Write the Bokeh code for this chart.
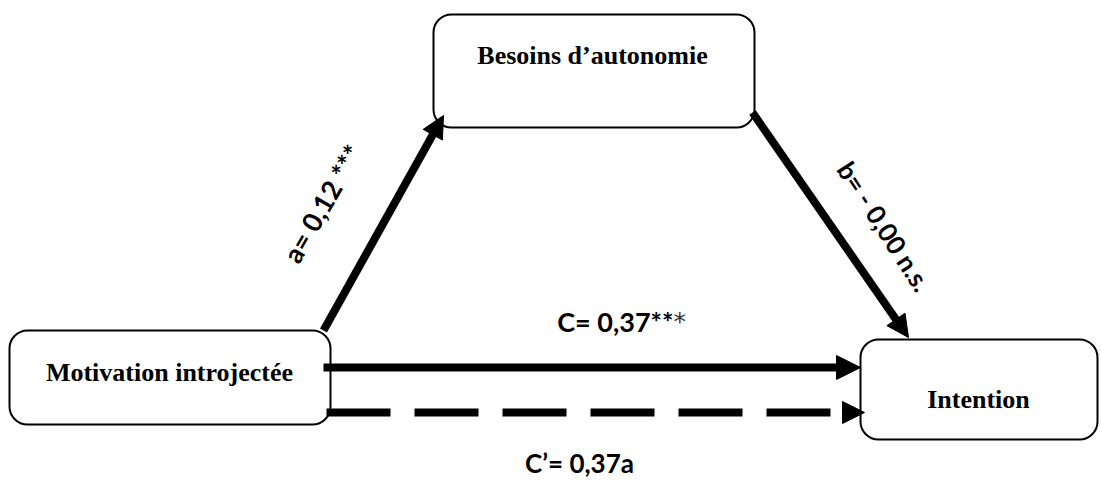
from bokeh.plotting import figure
from bokeh.models import Range1d, Arrow, NormalHead, ColumnDataSource
from bokeh.core.properties import value
from bokeh.embed import file_html
from bokeh.resources import INLINE
import math

# ---- content ----
node_names = ["Motivation introjectée", "Besoins d’autonomie", "Intention"]
path_names = ["a", "b", "c", "c_prime"]
path_labels = ["a= 0,12 ***", "b= - 0,00 n.s.", "C= 0,37**", "C’= 0,37a"]
extra_star = "*"

# ---- layout (screen pixels, origin top-left of page) ----
W, H = 1100, 480
def Y(py):
    return H - py

box_left = [9, 433, 860]
box_right = [330, 754, 1097]
box_top = [330, 14, 339]
box_bottom = [424, 127, 439]
node_label_x = [169, 592, 978]
node_label_y = [372, 55, 399]

arrow_geom = {
    "a": (323, 330, 443, 115, 22, None),
    "b": (752, 112, 908, 337, 22, None),
    "c": (323, 367, 860, 367, 24, None),
    "c_prime": (326, 412, 864, 412, 22, "64 24"),
}
label_geom = {
    "a": (322, 203, 60),
    "b": (884, 226, -57),
    "c": (673, 321, 0),
    "c_prime": (579, 462, 0),
}

p = figure(width=W, height=H, x_range=Range1d(0, W), y_range=Range1d(0, H),
           output_backend="svg", toolbar_location=None, min_border=0,
           x_axis_location=None, y_axis_location=None)
p.grid.visible = False
p.outline_line_color = None
p.background_fill_color = "white"
p.border_fill_color = "white"

# arrows
for name in path_names:
    x0, y0, x1, y1, hs, dash = arrow_geom[name]
    kw = dict(line_dash=dash) if dash else {}
    p.add_layout(Arrow(x_start=x0, y_start=Y(y0), x_end=x1, y_end=Y(y1),
                       line_width=8, line_color="black",
                       end=NormalHead(size=hs, fill_color="black", line_color="black", line_width=1),
                       **kw))

# boxes
box_src = ColumnDataSource(dict(left=box_left, right=box_right,
                                top=[Y(v) for v in box_top], bottom=[Y(v) for v in box_bottom]))
p.quad(left="left", right="right", top="top", bottom="bottom", source=box_src,
       fill_color="white", line_color="black", line_width=2, border_radius=18)

# node labels
node_src = ColumnDataSource(dict(x=node_label_x, y=[Y(v) for v in node_label_y], t=node_names))
p.text(x="x", y="y", text="t", source=node_src, text_font=value("Liberation Serif"),
       text_font_style="bold", text_font_size="26px", text_align="center",
       text_baseline="alphabetic", text_color="black")

# path labels
lx = [label_geom[n][0] for n in path_names]
ly = [Y(label_geom[n][1]) for n in path_names]
la = [math.radians(label_geom[n][2]) for n in path_names]
align = ["center", "center", "right", "center"]
sizes = ["27px", "26px", "27px", "26px"]
lab_src = ColumnDataSource(dict(x=lx, y=ly, a=la, t=path_labels, al=align, s=sizes))
p.text(x="x", y="y", text="t", angle="a", source=lab_src, text_font=value("Lato"),
       text_font_style="bold", text_font_size="s", text_align="al",
       text_baseline="middle", text_color="black")

# lighter final asterisk of C
p.text(x=[label_geom["c"][0]], y=[Y(label_geom["c"][1])], text=[extra_star],
       text_font=value("DejaVu Sans"), text_font_size="25px", text_align="left",
       text_baseline="middle", text_color="#333333")

open("out.html", "w").write(file_html(p, INLINE))
